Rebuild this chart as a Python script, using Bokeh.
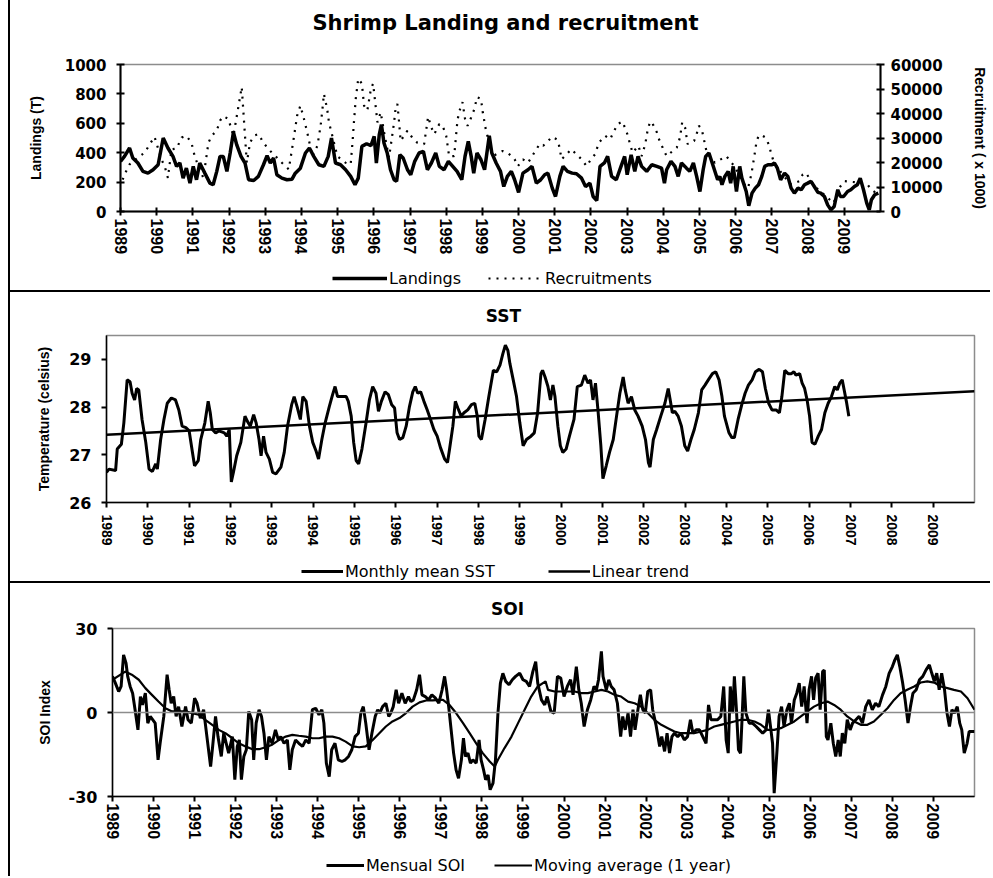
from bokeh.plotting import figure
from bokeh.models import Range1d, LinearAxis, FixedTicker, Legend, Span, Div, Label
from bokeh.layouts import row, column
from bokeh.embed import file_html
from bokeh.resources import INLINE

# ---------------- data ----------------
years = list(range(1989, 2010))

land_year = [1989.00, 1989.11, 1989.25, 1989.34, 1989.48, 1989.62, 1989.76, 1989.90, 1990.04, 1990.18,
             1990.31, 1990.45, 1990.55, 1990.64, 1990.73, 1990.82, 1990.92, 1991.01, 1991.10, 1991.19,
             1991.33, 1991.47, 1991.56, 1991.66, 1991.75, 1991.84, 1991.94, 1992.03, 1992.12, 1992.21,
             1992.33, 1992.44, 1992.54, 1992.68, 1992.81, 1992.95, 1993.05, 1993.14, 1993.23, 1993.32,
             1993.46, 1993.60, 1993.74, 1993.83, 1993.97, 1994.11, 1994.22, 1994.34, 1994.48, 1994.62,
             1994.74, 1994.83, 1994.94, 1995.08, 1995.22, 1995.36, 1995.48, 1995.57, 1995.67, 1995.80,
             1995.92, 1996.01, 1996.07, 1996.15, 1996.21, 1996.28, 1996.37, 1996.46, 1996.56, 1996.63,
             1996.72, 1996.81, 1996.93, 1997.02, 1997.13, 1997.25, 1997.37, 1997.48, 1997.59, 1997.71,
             1997.81, 1997.94, 1998.06, 1998.18, 1998.30, 1998.43, 1998.52, 1998.61, 1998.69, 1998.76,
             1998.85, 1998.96, 1999.06, 1999.19, 1999.26, 1999.38, 1999.50, 1999.59, 1999.69, 1999.80,
             1999.89, 2000.00, 2000.12, 2000.26, 2000.37, 2000.49, 2000.61, 2000.72, 2000.81, 2000.93,
             2001.02, 2001.14, 2001.23, 2001.35, 2001.48, 2001.60, 2001.74, 2001.85, 2001.97, 2002.06,
             2002.16, 2002.25, 2002.37, 2002.46, 2002.57, 2002.70, 2002.83, 2002.93, 2003.00, 2003.11,
             2003.21, 2003.30, 2003.40, 2003.54, 2003.68, 2003.82, 2003.95, 2004.03, 2004.09, 2004.21,
             2004.32, 2004.41, 2004.50, 2004.64, 2004.73, 2004.83, 2004.92, 2005.01, 2005.10, 2005.17,
             2005.26, 2005.35, 2005.50, 2005.56, 2005.62, 2005.70, 2005.79, 2005.86, 2005.93, 2006.02,
             2006.11, 2006.17, 2006.29, 2006.36, 2006.45, 2006.54, 2006.63, 2006.72, 2006.80, 2006.89,
             2007.00, 2007.07, 2007.15, 2007.24, 2007.35, 2007.44, 2007.53, 2007.62, 2007.72, 2007.81,
             2007.90, 2007.99, 2008.08, 2008.17, 2008.27, 2008.35, 2008.45, 2008.54, 2008.63, 2008.72,
             2008.82, 2008.89, 2008.98, 2009.09, 2009.18, 2009.28, 2009.36, 2009.44, 2009.53, 2009.62,
             2009.69, 2009.75, 2009.84, 2009.94]
land_val = [341, 375, 432, 364, 330, 273, 261, 284, 318, 500,
            432, 375, 307, 330, 227, 295, 193, 307, 216, 330,
            261, 193, 182, 273, 375, 375, 273, 398, 539, 455,
            375, 330, 216, 211, 239, 318, 380, 330, 364, 250,
            227, 216, 220, 261, 295, 398, 432, 375, 318, 307,
            375, 500, 330, 318, 284, 239, 182, 227, 443, 461,
            448, 511, 330, 523, 591, 466, 398, 284, 216, 205,
            386, 364, 284, 250, 341, 398, 409, 284, 330, 398,
            307, 284, 341, 307, 273, 216, 375, 477, 375, 261,
            398, 352, 284, 516, 398, 330, 273, 170, 239, 273,
            216, 130, 261, 284, 307, 193, 216, 250, 261, 159,
            102, 239, 307, 273, 261, 257, 227, 170, 193, 102,
            75, 307, 330, 375, 239, 216, 307, 375, 250, 386,
            273, 375, 307, 273, 318, 307, 295, 193, 284, 341,
            307, 239, 330, 295, 273, 330, 239, 136, 284, 375,
            398, 330, 216, 239, 182, 239, 273, 193, 307, 136,
            307, 227, 136, 39, 125, 159, 182, 239, 307, 318,
            318, 330, 295, 216, 261, 239, 159, 125, 159, 148,
            182, 193, 205, 170, 130, 125, 102, 45, 11, 34,
            148, 102, 102, 136, 148, 170, 182, 227, 148, 57,
            11, 80, 114, 125]

rec_year = [1989.06, 1989.11, 1989.25, 1989.53, 1989.67, 1989.81, 1989.94, 1990.13, 1990.22, 1990.31,
            1990.41, 1990.55, 1990.69, 1990.82, 1990.96, 1991.06, 1991.29, 1991.43, 1991.52, 1991.66,
            1991.75, 1991.84, 1991.98, 1992.12, 1992.35, 1992.49, 1992.58, 1992.68, 1992.81, 1992.95,
            1993.09, 1993.37, 1993.46, 1993.65, 1993.79, 1993.88, 1993.97, 1994.06, 1994.16, 1994.30,
            1994.44, 1994.53, 1994.59, 1994.62, 1994.71, 1994.76, 1994.90, 1994.99, 1995.22, 1995.36,
            1995.41, 1995.45, 1995.50, 1995.57, 1995.67, 1995.73, 1995.82, 1995.92, 1995.98, 1996.10,
            1996.19, 1996.30, 1996.42, 1996.56, 1996.60, 1996.65, 1996.69, 1996.74, 1996.93, 1997.06,
            1997.20, 1997.39, 1997.50, 1997.59, 1997.67, 1997.81, 1997.90, 1998.00, 1998.08, 1998.22,
            1998.31, 1998.36, 1998.45, 1998.52, 1998.59, 1998.69, 1998.78, 1998.85, 1998.96, 1999.01,
            1999.10, 1999.29, 1999.56, 1999.70, 1999.89, 1999.98, 2000.12, 2000.26, 2000.58, 2000.68,
            2000.93, 2001.05, 2001.11, 2001.19, 2001.46, 2001.60, 2001.74, 2001.88, 2002.00, 2002.11,
            2002.22, 2002.39, 2002.53, 2002.62, 2002.74, 2002.87, 2002.99, 2003.08, 2003.15, 2003.31,
            2003.40, 2003.50, 2003.57, 2003.63, 2003.68, 2003.75, 2003.82, 2003.88, 2004.00, 2004.09,
            2004.37, 2004.46, 2004.52, 2004.60, 2004.67, 2004.85, 2004.92, 2004.98, 2005.06, 2005.14,
            2005.20, 2005.28, 2005.42, 2005.74, 2005.88, 2005.97, 2006.06, 2006.20, 2006.34, 2006.43,
            2006.50, 2006.57, 2006.63, 2006.71, 2006.82, 2006.91, 2007.00, 2007.06, 2007.30, 2007.53,
            2007.76, 2007.85, 2007.94, 2008.10, 2008.23, 2008.50, 2008.70, 2008.86, 2009.00, 2009.46,
            2009.64, 2009.75, 2009.87, 2009.96]
rec_val = [13000, 15100, 19200, 22600, 24000, 27500, 30500, 21300, 18500, 13700,
           25400, 25700, 30200, 30900, 28100, 22000, 13700, 28100, 30900, 33000,
           37100, 38900, 37800, 30900, 50800, 19900, 28100, 30900, 31600, 28100,
           25400, 21300, 19900, 17200, 30200, 39100, 43200, 38400, 32300, 22600,
           26800, 35000, 43200, 48000, 41900, 36400, 28100, 22600, 19900, 19200,
           28100, 36400, 46000, 54200, 52200, 43200, 41200, 50100, 52200, 36400,
           40500, 31000, 22000, 36400, 41900, 43900, 37800, 28800, 33000, 30200,
           28100, 27500, 38700, 34300, 31600, 35700, 35000, 30900, 22600, 22600,
           37100, 40800, 44600, 37800, 35000, 38400, 41900, 46700, 46000, 40500,
           33000, 22600, 24700, 24000, 21300, 18500, 21300, 19900, 27500, 26800,
           30500, 29500, 27500, 21300, 25400, 23300, 21300, 18500, 21300, 23300,
           28100, 30900, 29500, 32300, 35700, 36700, 32300, 27500, 24000, 26800,
           22600, 27500, 33600, 36400, 36700, 34300, 32300, 29500, 25400, 22600,
           26100, 30200, 36400, 34300, 27500, 28800, 31600, 35000, 33600, 28100,
           24000, 22600, 19900, 22600, 19900, 18500, 15800, 11700, 9600, 15100,
           21300, 28100, 30900, 31200, 30200, 27500, 22600, 19900, 15000, 11000,
           12400, 15100, 15800, 12000, 9600, 6200, 3400, 9600, 12400, 11700,
           11000, 8900, 7600, 9600]

sst_year = [1989.00, 1989.06, 1989.22, 1989.26, 1989.36, 1989.42, 1989.50, 1989.57, 1989.62, 1989.68,
            1989.73, 1989.78, 1989.86, 1989.95, 1990.03, 1990.11, 1990.19, 1990.23, 1990.31, 1990.39,
            1990.47, 1990.57, 1990.67, 1990.75, 1990.83, 1990.92, 1991.00, 1991.08, 1991.13, 1991.22,
            1991.28, 1991.38, 1991.46, 1991.51, 1991.56, 1991.64, 1991.72, 1991.85, 1991.91, 1991.97,
            1992.02, 1992.07, 1992.15, 1992.25, 1992.35, 1992.41, 1992.48, 1992.56, 1992.62, 1992.69,
            1992.74, 1992.80, 1992.86, 1992.94, 1993.02, 1993.10, 1993.22, 1993.30, 1993.38, 1993.48,
            1993.54, 1993.62, 1993.69, 1993.75, 1993.83, 1993.91, 1993.99, 1994.07, 1994.13, 1994.21,
            1994.29, 1994.39, 1994.47, 1994.53, 1994.59, 1994.69, 1994.80, 1994.85, 1994.92, 1994.98,
            1995.04, 1995.10, 1995.18, 1995.28, 1995.36, 1995.44, 1995.52, 1995.58, 1995.65, 1995.74,
            1995.82, 1995.90, 1995.97, 1996.03, 1996.09, 1996.17, 1996.25, 1996.33, 1996.41, 1996.47,
            1996.53, 1996.60, 1996.68, 1996.76, 1996.84, 1996.92, 1997.00, 1997.08, 1997.18, 1997.25,
            1997.30, 1997.38, 1997.44, 1997.50, 1997.58, 1997.65, 1997.74, 1997.83, 1997.91, 1997.97,
            1998.01, 1998.07, 1998.16, 1998.25, 1998.36, 1998.44, 1998.52, 1998.59, 1998.65, 1998.71,
            1998.76, 1998.84, 1998.92, 1999.00, 1999.08, 1999.16, 1999.27, 1999.35, 1999.43, 1999.51,
            1999.55, 1999.61, 1999.68, 1999.74, 1999.80, 1999.85, 1999.92, 1999.98, 2000.04, 2000.12,
            2000.20, 2000.31, 2000.39, 2000.49, 2000.57, 2000.65, 2000.71, 2000.77, 2000.83, 2000.89,
            2000.96, 2001.01, 2001.09, 2001.17, 2001.26, 2001.34, 2001.42, 2001.50, 2001.55, 2001.62,
            2001.70, 2001.78, 2001.86, 2001.96, 2002.04, 2002.11, 2002.15, 2002.23, 2002.31, 2002.41,
            2002.51, 2002.59, 2002.63, 2002.69, 2002.75, 2002.83, 2002.91, 2002.99, 2003.06, 2003.14,
            2003.22, 2003.32, 2003.40, 2003.48, 2003.56, 2003.66, 2003.74, 2003.82, 2003.89, 2003.95,
            2004.06, 2004.13, 2004.19, 2004.28, 2004.37, 2004.45, 2004.53, 2004.62, 2004.70, 2004.79,
            2004.87, 2004.94, 2005.02, 2005.10, 2005.20, 2005.28, 2005.34, 2005.41, 2005.49, 2005.57,
            2005.63, 2005.68, 2005.77, 2005.83, 2005.89, 2005.95, 2006.01, 2006.07, 2006.14, 2006.22,
            2006.30, 2006.38, 2006.46, 2006.54, 2006.62, 2006.68, 2006.74, 2006.80, 2006.84, 2006.90,
            2006.96]
sst_val = [26.63, 26.70, 26.67, 27.12, 27.22, 27.67, 28.57, 28.53, 28.29, 28.15,
           28.39, 28.36, 27.74, 27.26, 26.70, 26.65, 26.81, 26.70, 27.32, 27.74,
           28.08, 28.19, 28.15, 27.94, 27.60, 27.57, 27.50, 27.05, 26.77, 26.88,
           27.32, 27.67, 28.12, 27.88, 27.53, 27.46, 27.50, 27.46, 27.39, 27.53,
           26.43, 26.63, 26.98, 27.26, 27.81, 27.70, 27.60, 27.84, 27.67, 27.32,
           26.98, 27.39, 27.05, 26.91, 26.63, 26.60, 26.74, 27.05, 27.60, 28.05,
           28.22, 27.98, 27.74, 28.22, 28.12, 27.60, 27.26, 27.08, 26.91, 27.32,
           27.67, 28.01, 28.26, 28.43, 28.22, 28.22, 28.22, 28.12, 27.81, 27.26,
           26.88, 26.81, 27.12, 27.67, 28.15, 28.43, 28.29, 27.91, 28.12, 28.32,
           28.26, 28.05, 27.98, 27.46, 27.32, 27.36, 27.60, 28.01, 28.32, 28.43,
           28.29, 28.32, 28.12, 27.94, 27.74, 27.53, 27.39, 27.15, 26.91, 26.84,
           27.12, 27.60, 28.12, 27.98, 27.81, 27.88, 27.94, 28.05, 28.08, 27.81,
           27.39, 27.32, 27.74, 28.22, 28.77, 28.74, 28.88, 29.12, 29.30, 29.19,
           28.91, 28.57, 28.22, 27.67, 27.19, 27.32, 27.39, 27.46, 27.88, 28.70,
           28.77, 28.63, 28.43, 28.15, 28.46, 28.22, 27.60, 27.19, 27.05, 27.12,
           27.39, 27.74, 28.43, 28.46, 28.67, 28.50, 28.57, 28.15, 28.50, 27.94,
           27.19, 26.50, 26.77, 27.05, 27.32, 27.81, 28.29, 28.63, 28.36, 28.08,
           28.22, 27.94, 27.81, 27.60, 27.32, 26.84, 26.74, 27.32, 27.53, 27.81,
           28.08, 28.39, 28.19, 27.88, 27.91, 27.81, 27.60, 27.19, 27.08, 27.32,
           27.53, 27.88, 28.36, 28.46, 28.57, 28.70, 28.74, 28.57, 28.22, 27.81,
           27.46, 27.36, 27.36, 27.74, 28.05, 28.29, 28.46, 28.57, 28.74, 28.79,
           28.74, 28.39, 28.08, 27.94, 27.94, 27.88, 28.22, 28.77, 28.70, 28.70,
           28.74, 28.67, 28.70, 28.50, 28.39, 28.15, 27.81, 27.26, 27.22, 27.39,
           27.53, 27.88, 28.08, 28.22, 28.43, 28.36, 28.50, 28.57, 28.39, 28.12,
           27.81]

trend_year = [1989.0, 2010.0]
trend_val = [27.42, 28.33]

soi_year = [1989.00, 1989.07, 1989.15, 1989.21, 1989.27, 1989.33, 1989.37, 1989.43, 1989.49, 1989.55,
            1989.62, 1989.68, 1989.73, 1989.80, 1989.86, 1989.92, 1990.04, 1990.11, 1990.16, 1990.25,
            1990.33, 1990.38, 1990.43, 1990.49, 1990.55, 1990.61, 1990.69, 1990.78, 1990.84, 1990.92,
            1991.00, 1991.06, 1991.14, 1991.22, 1991.30, 1991.39, 1991.44, 1991.51, 1991.57, 1991.65,
            1991.71, 1991.77, 1991.83, 1991.92, 1991.98, 1992.04, 1992.09, 1992.14, 1992.20, 1992.26,
            1992.32, 1992.39, 1992.44, 1992.50, 1992.57, 1992.63, 1992.69, 1992.75, 1992.81, 1992.89,
            1992.97, 1993.04, 1993.10, 1993.18, 1993.26, 1993.32, 1993.38, 1993.46, 1993.54, 1993.63,
            1993.71, 1993.79, 1993.87, 1993.95, 1994.03, 1994.10, 1994.15, 1994.21, 1994.28, 1994.34,
            1994.42, 1994.50, 1994.59, 1994.67, 1994.75, 1994.83, 1994.91, 1994.99, 1995.05, 1995.11,
            1995.17, 1995.25, 1995.32, 1995.40, 1995.46, 1995.51, 1995.58, 1995.66, 1995.73, 1995.78,
            1995.84, 1995.91, 1995.97, 1996.05, 1996.13, 1996.21, 1996.27, 1996.33, 1996.41, 1996.48,
            1996.54, 1996.62, 1996.70, 1996.78, 1996.87, 1996.95, 1997.03, 1997.09, 1997.14, 1997.19,
            1997.25, 1997.31, 1997.37, 1997.43, 1997.50, 1997.55, 1997.60, 1997.66, 1997.72, 1997.78,
            1997.86, 1997.93, 1997.98, 1998.04, 1998.09, 1998.15, 1998.20, 1998.27, 1998.33, 1998.39,
            1998.45, 1998.51, 1998.58, 1998.66, 1998.74, 1998.82, 1998.92, 1999.00, 1999.08, 1999.16,
            1999.24, 1999.31, 1999.36, 1999.45, 1999.53, 1999.59, 1999.68, 1999.76, 1999.84, 1999.92,
            2000.00, 2000.08, 2000.16, 2000.22, 2000.30, 2000.36, 2000.42, 2000.49, 2000.57, 2000.65,
            2000.73, 2000.79, 2000.84, 2000.91, 2000.95, 2001.03, 2001.09, 2001.15, 2001.22, 2001.30,
            2001.38, 2001.43, 2001.49, 2001.56, 2001.62, 2001.68, 2001.73, 2001.80, 2001.86, 2001.92,
            2001.98, 2002.04, 2002.11, 2002.16, 2002.24, 2002.33, 2002.38, 2002.45, 2002.51, 2002.57,
            2002.63, 2002.69, 2002.77, 2002.85, 2002.93, 2003.01, 2003.08, 2003.14, 2003.22, 2003.30,
            2003.38, 2003.46, 2003.52, 2003.58, 2003.66, 2003.74, 2003.82, 2003.89, 2003.95, 2004.00,
            2004.05, 2004.11, 2004.15, 2004.20, 2004.25, 2004.30, 2004.34, 2004.38, 2004.43, 2004.51,
            2004.59, 2004.68, 2004.76, 2004.84, 2004.92, 2004.98, 2005.02, 2005.08, 2005.12, 2005.19,
            2005.24, 2005.30, 2005.36, 2005.43, 2005.49, 2005.54, 2005.61, 2005.67, 2005.73, 2005.79,
            2005.85, 2005.92, 2005.97, 2006.03, 2006.08, 2006.13, 2006.19, 2006.24, 2006.30, 2006.34,
            2006.39, 2006.43, 2006.50, 2006.56, 2006.62, 2006.68, 2006.73, 2006.78, 2006.84, 2006.90,
            2006.97, 2007.03, 2007.11, 2007.19, 2007.27, 2007.35, 2007.43, 2007.51, 2007.59, 2007.67,
            2007.76, 2007.84, 2007.92, 2008.00, 2008.06, 2008.12, 2008.18, 2008.25, 2008.31, 2008.38,
            2008.44, 2008.50, 2008.58, 2008.66, 2008.74, 2008.82, 2008.90, 2008.96, 2009.02, 2009.08,
            2009.14, 2009.20, 2009.27, 2009.33, 2009.39, 2009.45, 2009.51, 2009.58, 2009.64, 2009.69,
            2009.75, 2009.82, 2009.87, 2010.00]
soi_val = [12.9, 10.5, 7.5, 9.3, 20.6, 17.6, 12.9, 9.3, 6.9, 1.0,
           -6.2, 5.7, 2.7, 6.9, -3.8, -1.4, -3.8, -16.9, -11.0, -1.4,
           13.5, 8.1, 3.3, 5.7, -1.4, 2.1, -5.0, 2.1, -2.6, -3.8,
           5.1, 3.3, -2.0, 1.0, -8.6, -19.3, -12.1, -1.4, -8.6, -15.7,
           -7.4, -11.0, -14.5, -8.6, -24.0, -12.1, -9.8, -24.0, -15.7, -13.3,
           0.4, -2.6, -16.9, -3.8, 1.0, -1.4, -7.4, -16.9, -8.6, -11.0,
           -6.2, -9.8, -8.6, -11.0, -9.8, -20.5, -13.3, -9.8, -11.0, -12.1,
           -9.8, -11.0, 1.0, 1.5, -0.8, 1.0, -3.8, -18.1, -22.9, -13.3,
           -11.0, -16.9, -17.5, -16.9, -15.7, -13.3, -8.6, -7.4, -0.2, 2.1,
           -3.8, -13.3, -7.4, -1.4, 1.0, -0.2, 2.1, 3.3, -1.4, -0.2,
           2.1, 8.1, 3.3, 6.9, 3.3, 5.7, 3.9, 4.5, 8.1, 13.5,
           6.3, 5.7, 4.5, 6.3, 5.1, 3.3, 8.1, 12.9, 8.1, 2.1,
           -6.2, -14.5, -20.5, -23.5, -16.9, -9.2, -15.7, -14.5, -18.1, -16.9,
           -18.1, -9.8, -16.9, -20.5, -24.0, -22.3, -27.6, -25.2, -16.9, -0.2,
           10.5, 14.0, 11.1, 9.9, 11.7, 12.9, 14.0, 11.7, 11.1, 9.3,
           14.6, 18.2, 10.5, 4.5, 2.7, 5.7, 0.4, -0.2, 12.9, 12.3,
           5.7, 9.3, 11.7, 6.3, 16.4, 8.1, 3.3, -5.0, 1.0, 4.5,
           9.3, 8.1, 11.7, 21.8, 12.9, 8.1, 11.7, 9.3, 8.1, 3.3,
           -8.6, -1.4, -6.2, -0.2, -8.6, 1.0, -6.2, 1.0, 6.3, 1.0,
           -0.2, 7.5, 8.1, 1.0, -4.4, -12.1, -8.6, -13.9, -7.4, -14.5,
           -8.6, -7.4, -8.6, -7.4, -9.8, -8.6, -2.6, -7.4, -6.2, -6.2,
           -8.6, -11.0, 2.7, -2.6, -2.6, -2.6, -1.4, 9.3, -9.8, -14.5,
           9.3, -0.2, 12.9, 1.0, -13.3, -14.5, -1.4, 12.9, -0.2, -3.8,
           -3.8, -5.0, -6.2, -7.4, -6.2, 1.0, -3.8, -11.0, -28.8, -13.3,
           -1.4, 2.1, -5.0, 1.0, 3.3, -3.8, 4.5, 6.9, 10.5, 2.1,
           9.3, -3.8, 8.1, 12.9, 4.5, 12.3, 14.0, 1.0, 14.6, 15.2,
           -8.6, -9.8, -3.8, -11.0, -15.7, -9.8, -15.7, -7.4, -11.0, -2.6,
           -6.2, -3.8, -2.6, -1.4, -3.8, 2.1, 4.5, 1.0, 3.3, 2.1,
           6.3, 9.3, 14.0, 16.4, 18.8, 20.6, 16.4, 10.5, 4.5, -3.8,
           2.1, 6.9, 8.1, 11.7, 12.9, 15.2, 17.0, 14.0, 11.1, 14.0,
           8.1, 14.0, 8.1, -0.2, -5.0, 1.0, -0.2, 2.1, -3.8, -6.2,
           -14.5, -11.0, -6.8, -6.8]

ma_year = [1989.00, 1989.31, 1989.47, 1989.64, 1989.80, 1989.96, 1990.12, 1990.29, 1990.45, 1990.61,
           1990.78, 1990.94, 1991.10, 1991.26, 1991.43, 1991.59, 1991.75, 1991.92, 1992.08, 1992.24,
           1992.41, 1992.57, 1992.73, 1992.89, 1993.06, 1993.22, 1993.38, 1993.54, 1993.71, 1993.87,
           1994.03, 1994.20, 1994.36, 1994.52, 1994.68, 1994.85, 1995.01, 1995.17, 1995.34, 1995.50,
           1995.66, 1995.82, 1995.99, 1996.15, 1996.31, 1996.48, 1996.64, 1996.80, 1996.96, 1997.05,
           1997.21, 1997.37, 1997.54, 1997.70, 1997.86, 1998.02, 1998.19, 1998.31, 1998.39, 1998.55,
           1998.72, 1998.88, 1999.04, 1999.20, 1999.36, 1999.55, 1999.61, 1999.77, 1999.94, 2000.10,
           2000.26, 2000.42, 2000.58, 2000.75, 2000.91, 2001.07, 2001.23, 2001.39, 2001.56, 2001.72,
           2001.88, 2002.04, 2002.20, 2002.37, 2002.53, 2002.69, 2002.85, 2003.01, 2003.17, 2003.34,
           2003.50, 2003.66, 2003.82, 2003.99, 2004.15, 2004.31, 2004.47, 2004.64, 2004.80, 2004.96,
           2005.12, 2005.28, 2005.45, 2005.61, 2005.77, 2005.93, 2006.09, 2006.26, 2006.42, 2006.58,
           2006.74, 2006.90, 2007.07, 2007.23, 2007.39, 2007.55, 2007.72, 2007.88, 2008.04, 2008.20,
           2008.36, 2008.53, 2008.69, 2008.85, 2009.02, 2009.18, 2009.34, 2009.50, 2009.67, 2009.83,
           2010.00]
ma_val = [11.7, 14.6, 13.5, 11.7, 8.7, 6.3, 3.9, 1.5, 0.4, 0.4,
          0.4, -0.2, -0.8, -2.6, -4.4, -6.2, -7.4, -9.2, -11.0, -12.1,
          -13.1, -13.1, -12.4, -11.5, -9.8, -8.6, -8.0, -8.3, -8.6, -9.2,
          -9.2, -8.6, -8.6, -9.2, -10.4, -12.1, -12.4, -12.1, -9.8, -7.4,
          -5.0, -3.2, -2.0, -0.2, 2.1, 3.6, 4.3, 4.3, 4.5, 4.5,
          2.7, -0.2, -3.8, -7.4, -11.0, -14.5, -17.5, -19.3, -16.9, -12.7,
          -8.6, -3.8, 1.0, 5.7, 9.3, 11.1, 8.1, 7.5, 7.5, 7.5,
          7.5, 6.9, 6.9, 7.5, 8.1, 7.5, 6.3, 5.7, 3.9, 3.3,
          2.1, -0.2, -2.6, -4.4, -5.6, -6.8, -7.4, -7.4, -7.4, -6.8,
          -6.2, -5.0, -4.4, -3.8, -3.2, -2.6, -2.6, -3.2, -4.4, -6.2,
          -6.2, -5.6, -4.4, -3.2, -1.4, 0.4, 2.1, 3.3, 3.9, 2.7,
          1.0, -1.4, -3.2, -4.4, -4.4, -3.2, -0.8, 1.5, 4.5, 6.9,
          8.1, 9.3, 10.7, 11.1, 10.7, 9.3, 8.7, 8.1, 7.5, 5.1,
          1.0]

# ---------------- styling helpers ----------------
BLACK = "#000000"
GREY = "#8c8c8c"
HFONT = "DejaVu Sans"
VFONT = "Liberation Sans"
W = 980


def main_fig(height, y_range, left, right, top, bottom):
    p = figure(width=W, height=height, x_range=Range1d(1989, 2010), y_range=y_range,
               output_backend="svg", toolbar_location=None,
               min_border_left=left, min_border_right=right, min_border_top=top,
               min_border_bottom=bottom)
    p.xgrid.visible = False
    p.ygrid.visible = False
    p.background_fill_color = "white"
    p.border_fill_color = "white"
    p.outline_line_color = GREY
    p.outline_line_width = 1.5
    return p


def strip_fig(height, left, right):
    s = figure(width=W, height=height, x_range=Range1d(0, W - left - right),
               y_range=Range1d(0, height), x_axis_type=None, y_axis_type=None,
               output_backend="svg", toolbar_location=None,
               min_border_left=left, min_border_right=right, min_border_top=0,
               min_border_bottom=0)
    s.outline_line_color = None
    s.background_fill_color = "white"
    s.border_fill_color = "white"
    return s


def title_strip(height, left, right, text, size, cx, cy):
    s = strip_fig(height, left, right)
    s.add_layout(Label(x=cx, y=cy, text=text, text_align="center", text_baseline="middle",
                       text_font=HFONT, text_font_style="bold", text_font_size=size,
                       text_color=BLACK))
    return s


def style_x(ax, size, tin, tout, standoff):
    ax.ticker = FixedTicker(ticks=years)
    ax.major_label_orientation = "vertical"
    ax.major_label_text_font = VFONT
    ax.major_label_text_font_style = "bold"
    ax.major_label_text_font_size = size
    ax.major_label_text_color = BLACK
    ax.major_label_standoff = standoff
    ax.axis_line_color = BLACK
    ax.axis_line_width = 2
    ax.major_tick_line_color = BLACK
    ax.major_tick_line_width = 2
    ax.major_tick_in = tin
    ax.major_tick_out = tout
    ax.minor_tick_line_color = None


def style_y(ax, ticks, size, tin, tout, standoff, label, label_standoff, lw=2):
    ax.ticker = FixedTicker(ticks=ticks)
    ax.major_label_text_font = HFONT
    ax.major_label_text_font_style = "bold"
    ax.major_label_text_font_size = size
    ax.major_label_text_color = BLACK
    ax.major_label_standoff = standoff
    ax.axis_line_color = BLACK
    ax.axis_line_width = lw
    ax.major_tick_line_color = BLACK
    ax.major_tick_line_width = 2
    ax.major_tick_in = tin
    ax.major_tick_out = tout
    ax.minor_tick_line_color = None
    ax.axis_label = label
    ax.axis_label_text_font = VFONT
    ax.axis_label_text_font_style = "bold"
    ax.axis_label_text_font_size = "14px"
    ax.axis_label_text_color = BLACK
    ax.axis_label_standoff = label_standoff


def legend_strip(height, left, right, entries, x, y, glyph_w, spacing):
    s = strip_fig(height, left, right)
    items = []
    for name, kw in entries:
        # legend key only: a segment kept below the visible strip area
        r = s.line(x=[0, 1], y=[-50, -50], **kw)
        items.append((name, [r]))
    leg = Legend(items=items, location=(x, y), orientation="horizontal")
    leg.border_line_alpha = 0
    leg.background_fill_alpha = 0
    leg.padding = 0
    leg.margin = 0
    leg.spacing = spacing
    leg.glyph_width = glyph_w
    leg.glyph_height = 20
    leg.label_height = 20
    leg.label_standoff = 2
    leg.label_text_font = HFONT
    leg.label_text_font_size = "16px"
    leg.label_text_color = BLACK
    s.add_layout(leg, "center")
    return s


LAND_STYLE = dict(line_color=BLACK, line_width=3.5)
REC_STYLE = dict(line_color=BLACK, line_width=2.2, line_dash="2 6")
SST_STYLE = dict(line_color=BLACK, line_width=3)
TREND_STYLE = dict(line_color=BLACK, line_width=2.5)
SOI_STYLE = dict(line_color=BLACK, line_width=3)
MA_STYLE = dict(line_color=BLACK, line_width=2.2)

# ---------------- panel 1 ----------------
L1, R1 = 110, 108
t1 = title_strip(40, L1, R1, "Shrimp Landing and recruitment", "21px", 386, 18)
p1 = main_fig(226, Range1d(0, 1000), L1, R1, 24, 55)
p1.extra_y_ranges = {"rec": Range1d(0, 60000)}
style_x(p1.xaxis[0], "16px", 4, 4, 3)
style_y(p1.yaxis[0], [0, 200, 400, 600, 800, 1000], "15px", 4, 4, 10, "Landings (T)", 18)
rax = LinearAxis(y_range_name="rec")
style_y(rax, [0, 10000, 20000, 30000, 40000, 50000, 60000], "15px", 4, 4, 6,
        "Recruitment ( x 1000)", 26)
p1.add_layout(rax, "right")
p1.line(rec_year, rec_val, y_range_name="rec", **REC_STYLE)
p1.line(land_year, land_val, **LAND_STYLE)
g1 = legend_strip(24, L1, R1, [("Landings", LAND_STYLE), ("Recruitments", REC_STYLE)],
                  212, 2, 55, 27)

# ---------------- panel 2 ----------------
L2, R2 = 96, 16
t2 = title_strip(38, L2, R2, "SST", "17px", 397, 15)
p2 = main_fig(231, Range1d(26, 29.5), L2, R2, 5, 59)
style_x(p2.xaxis[0], "14px", 0, 5, 7)
style_y(p2.yaxis[0], [26, 27, 28, 29], "16px", 0, 5, 10, "Temperature (celsius)", 14, lw=1.5)
p2.xaxis[0].axis_line_width = 1.5
p2.line(sst_year, sst_val, **SST_STYLE)
p2.line(trend_year, trend_val, **TREND_STYLE)
g2 = legend_strip(20, L2, R2, [("Monthly mean SST", SST_STYLE), ("Linear trend", TREND_STYLE)],
                  195, 0, 42, 53)

# ---------------- panel 3 ----------------
L3, R3 = 102, 16
t3 = title_strip(34, L3, R3, "SOI", "17px", 395, 9)
p3 = main_fig(237, Range1d(-30, 30), L3, R3, 11, 58)
style_x(p3.xaxis[0], "16px", 0, 5, 2)
style_y(p3.yaxis[0], [-30, 0, 30], "16px", 0, 5, 10, "SOI Index", 13, lw=1.5)
p3.yaxis[0].major_label_overrides = {-30: "-30"}
p3.xaxis[0].axis_line_width = 1.5
p3.add_layout(Span(location=0, dimension="width", line_color=GREY, line_width=1.5))
p3.line(soi_year, soi_val, **SOI_STYLE)
p3.line(ma_year, ma_val, **MA_STYLE)
g3 = legend_strip(22, L3, R3, [("Mensual SOI", SOI_STYLE), ("Moving average (1 year)", MA_STYLE)],
                  214, 1, 38, 29)


# ---------------- page frame lines ----------------
def bar(w, h, color):
    return Div(text="", width=w, height=h, margin=0, styles={"background-color": color})


def panel_row(h, parts):
    return row(bar(8, h, "white"), bar(2, h, "black"), column(*parts, spacing=0), spacing=0)


roots = [
    panel_row(290, [t1, p1, g1]),
    row(bar(8, 2, "white"), bar(W + 2, 2, "black"), spacing=0),
    panel_row(289, [t2, p2, g2]),
    row(bar(8, 2, "white"), bar(W + 2, 2, "black"), spacing=0),
    panel_row(293, [t3, p3, g3]),
]

open("out.html", "w").write(file_html(roots, INLINE))
